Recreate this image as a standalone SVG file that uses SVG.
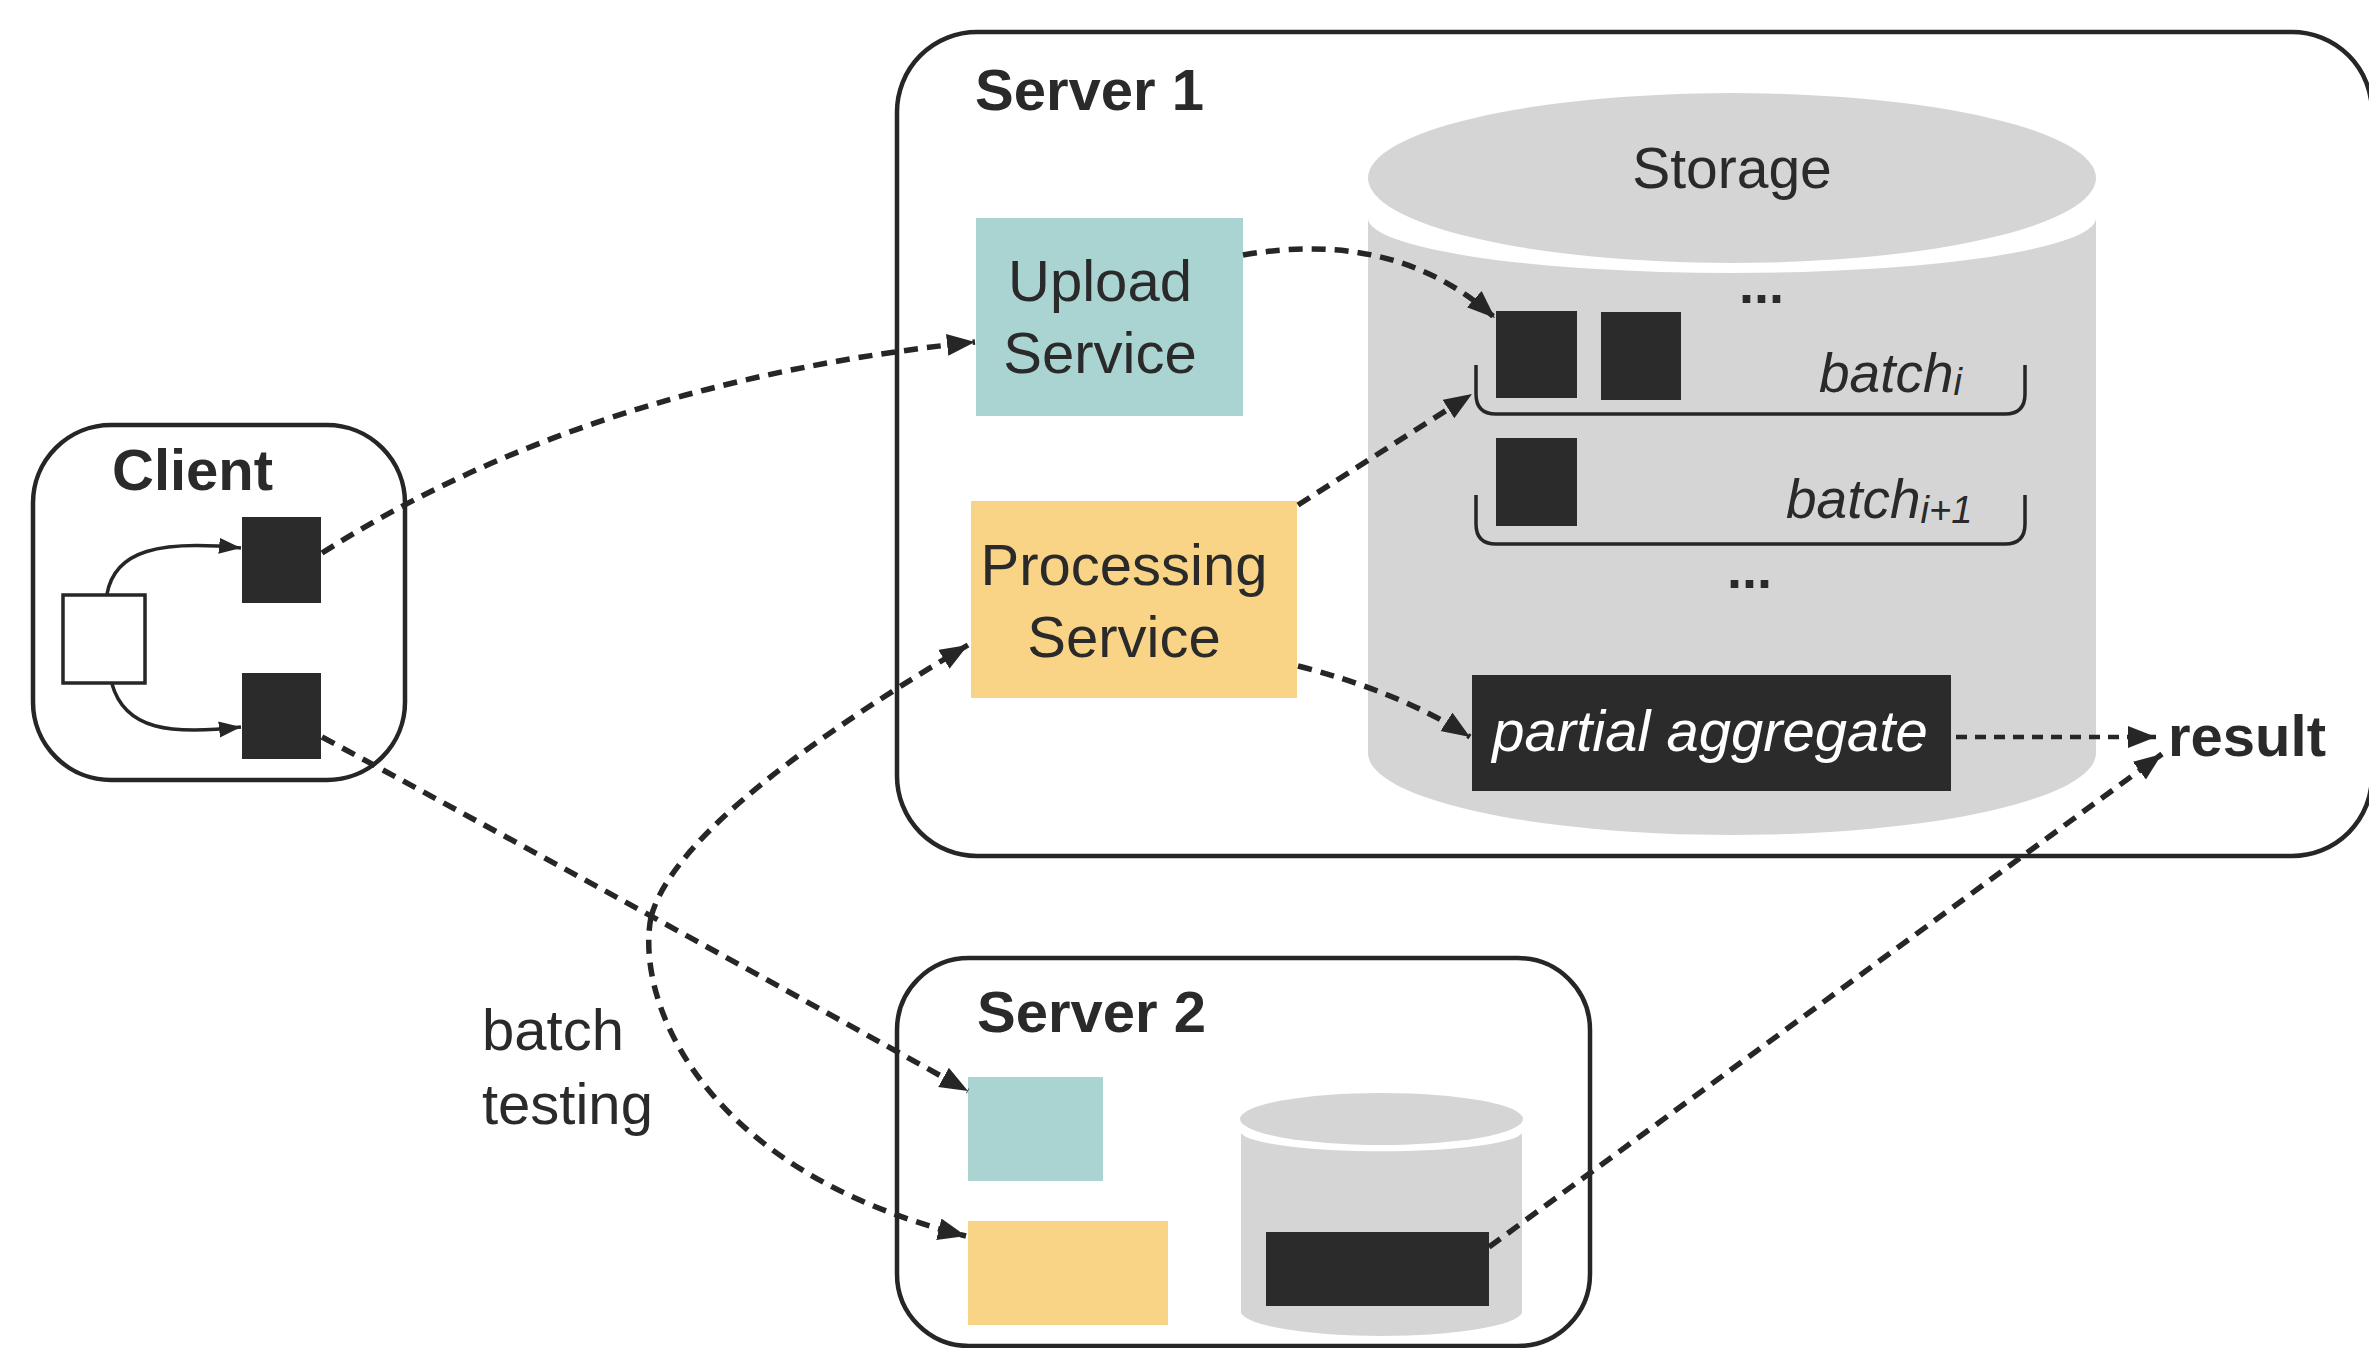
<svg xmlns="http://www.w3.org/2000/svg" width="2369" height="1348" viewBox="0 0 2369 1348">
<defs>
<style>
.box{fill:none;stroke:#262626;stroke-width:4.5}
.lbl{font-family:"Liberation Sans",Arial,sans-serif;fill:#2a2a2a}
.bold{font-weight:bold}
.it{font-style:italic}
.dash{fill:none;stroke:#262626;stroke-width:5.5;stroke-dasharray:14 9}
.solid{fill:none;stroke:#262626;stroke-width:3.5}
.gray{fill:#d5d5d5}
.blk{fill:#2b2b2b}
.teal{fill:#a9d4d1}
.yel{fill:#f9d486}
.brk{fill:none;stroke:#262626;stroke-width:3.5}
</style>
<marker id="ah" markerUnits="userSpaceOnUse" markerWidth="30" markerHeight="24" refX="28" refY="11" orient="auto">
<path d="M0,0 L28,11 L0,22 Z" fill="#262626"/>
</marker>
<marker id="ahs" markerUnits="userSpaceOnUse" markerWidth="24" markerHeight="20" refX="22" refY="8" orient="auto">
<path d="M0,0 L22,8 L0,16 Z" fill="#262626"/>
</marker>
</defs>
<rect width="2369" height="1348" fill="#ffffff"/>

<g id="client">
<rect class="box" x="33" y="425" width="372" height="355" rx="78"/>
<text class="lbl bold" x="112" y="490" font-size="58">Client</text>
<rect x="63" y="595" width="82" height="88" fill="#ffffff" stroke="#262626" stroke-width="3.5"/>
<rect class="blk" x="242" y="517" width="79" height="86"/>
<rect class="blk" x="242" y="673" width="79" height="86"/>
<path class="solid" d="M107,594 C115,550 160,540 241,548" marker-end="url(#ahs)"/>
<path class="solid" d="M112,684 C125,730 170,735 241,727" marker-end="url(#ahs)"/>
</g>

<g id="server1">
<rect class="box" x="897" y="32" width="1475" height="824" rx="80"/>
<text class="lbl bold" x="975" y="110" font-size="58">Server 1</text>
</g>

<g id="upload-service">
<rect class="teal" x="976" y="218" width="267" height="198"/>
<text class="lbl" x="1100" y="301" font-size="58" text-anchor="middle">Upload</text>
<text class="lbl" x="1100" y="373" font-size="58" text-anchor="middle">Service</text>
</g>

<g id="processing-service">
<rect class="yel" x="971" y="501" width="326" height="197"/>
<text class="lbl" x="1124" y="585" font-size="58" text-anchor="middle">Processing</text>
<text class="lbl" x="1124" y="657" font-size="58" text-anchor="middle">Service</text>
</g>

<g id="storage">
<path class="gray" d="M1368,218 A364,55 0 0 0 2096,218 L2096,753 A364,82 0 0 1 1368,753 Z"/>
<ellipse class="gray" cx="1732" cy="178" rx="364" ry="85"/>
<text class="lbl" x="1732" y="188" font-size="57" text-anchor="middle">Storage</text>
<text class="lbl bold" x="1739" y="303" font-size="54">...</text>
<rect class="blk" x="1496" y="311" width="81" height="87"/>
<rect class="blk" x="1601" y="312" width="80" height="88"/>
<path class="brk" d="M1476,365 L1476,394 Q1476,414 1496,414 L2005,414 Q2025,414 2025,394 L2025,365"/>
<text class="lbl it" x="1819" y="392" font-size="55">batch<tspan font-size="38" dy="3">i</tspan></text>
<rect class="blk" x="1496" y="438" width="81" height="88"/>
<path class="brk" d="M1476,495 L1476,524 Q1476,544 1496,544 L2005,544 Q2025,544 2025,524 L2025,495"/>
<text class="lbl it" x="1786" y="518" font-size="55">batch<tspan font-size="38" dy="5">i+1</tspan></text>
<text class="lbl bold" x="1727" y="588" font-size="54">...</text>
</g>

<g id="partial-aggregate">
<rect class="blk" x="1472" y="675" width="479" height="116"/>
<text class="lbl it" x="1710" y="751" font-size="58" text-anchor="middle" fill="#ffffff" style="fill:#ffffff">partial aggregate</text>
</g>

<g id="result">
<text class="lbl bold" x="2168" y="756" font-size="58">result</text>
</g>

<g id="server2">
<rect class="box" x="897" y="958" width="693" height="388" rx="72"/>
<text class="lbl bold" x="977" y="1032" font-size="58">Server 2</text>
<rect class="teal" x="968" y="1077" width="135" height="104"/>
<rect class="yel" x="968" y="1221" width="200" height="104"/>
<path class="gray" d="M1241,1133 A141,20 0 0 0 1522,1133 L1522,1313 A141,25 0 0 1 1241,1313 Z"/>
<ellipse class="gray" cx="1381.5" cy="1119" rx="141.5" ry="26"/>
<rect class="blk" x="1266" y="1232" width="223" height="74"/>
</g>

<g id="batch-testing-label">
<text class="lbl" x="482" y="1050" font-size="58" fill="#333333">batch</text>
<text class="lbl" x="482" y="1124" font-size="58" fill="#333333">testing</text>
</g>

<g id="connectors">
<path class="dash" d="M322,553 Q591,382 975,342" marker-end="url(#ah)"/>
<path class="dash" d="M322,737 Q653,916 968,1091" marker-end="url(#ah)"/>
<path class="dash" d="M651,917 Q678,817 968,645" marker-end="url(#ah)"/>
<path class="dash" d="M651,917 C635,1000 700,1170 966,1236" marker-end="url(#ah)"/>
<path class="dash" d="M1243,255 C1330,240 1420,250 1495,318" marker-end="url(#ah)"/>
<path class="dash" d="M1298,505 L1472,394" marker-end="url(#ah)"/>
<path class="dash" d="M1298,666 Q1400,692 1470,737" marker-end="url(#ah)"/>
<path class="dash" d="M1956,737 L2156,737" style="stroke-width:4.5;stroke-dasharray:11 8" marker-end="url(#ah)"/>
<path class="dash" d="M1489,1247 L2162,754" marker-end="url(#ah)"/>
</g>
</svg>
